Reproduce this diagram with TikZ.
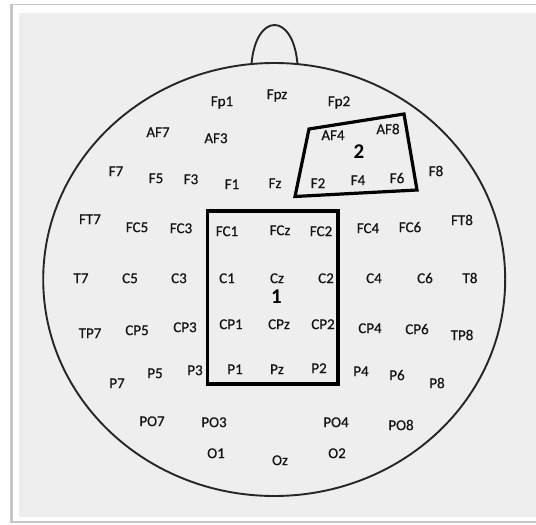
\documentclass[tikz,border=0pt]{standalone}
\usepackage{fontspec}
\setmainfont{Carlito}
\newfontfamily\elfont[FakeBold=0.6]{Carlito}
\definecolor{panel}{HTML}{EEEEEE}
\definecolor{ink}{HTML}{141414}
\definecolor{headline}{HTML}{262626}
\begin{document}
\begin{tikzpicture}[x=1pt,y=-1pt,
  el/.style={inner sep=0pt,text=ink,font=\elfont\fontsize{15}{17}\selectfont,text height=0.62em,text depth=0pt,anchor=center},
  regionlbl/.style={inner sep=0pt,text=black,font=\fontsize{21}{23}\selectfont\bfseries,text height=0.62em,text depth=0pt},
  regionbox/.style={line width=3.2pt,black,line join=miter},
  head/.style={line width=1.9pt,headline}]
\useasboundingbox (0,0) rectangle (536,525);
% frame
\fill[white] (0,0) rectangle (536,525);
\fill[black!22] (10,3.5) rectangle (536,523);
\fill[white] (12.5,5) rectangle (536,520.5);
\fill[panel] (19,12.5) rectangle (536,517);
% head
\draw[head] (274.2,279.5) ellipse [x radius=231, y radius=216.5];
\draw[head] (251.5,64) .. controls (256,12) and (293,12) .. (297.5,64);
\draw[head,line width=1.2pt] (252,63.5) -- (297,63.5);
% electrodes
\node[el] (Fp1) at (222,103) {Fp1};
\node[el] (Fpz) at (277,96) {Fpz};
\node[el] (Fp2) at (339,103) {Fp2};
\node[el] (AF7) at (158,134) {AF7};
\node[el] (AF3) at (216,140) {AF3};
\node[el] (AF4) at (333,137) {AF4};
\node[el] (AF8) at (388,131) {AF8};
\node[el] (F7) at (116,173) {F7};
\node[el] (F5) at (156,180) {F5};
\node[el] (F3) at (191,181) {F3};
\node[el] (F1) at (232,186) {F1};
\node[el] (Fz) at (275,185) {Fz};
\node[el] (F2) at (318,185) {F2};
\node[el] (F4) at (358,182) {F4};
\node[el] (F6) at (397,180) {F6};
\node[el] (F8) at (436,173) {F8};
\node[el] (FT7) at (90,221) {FT7};
\node[el] (FC5) at (137,229) {FC5};
\node[el] (FC3) at (181,230) {FC3};
\node[el] (FC1) at (227,233) {FC1};
\node[el] (FCz) at (280,232) {FCz};
\node[el] (FC2) at (321,233) {FC2};
\node[el] (FC4) at (368,230) {FC4};
\node[el] (FC6) at (410,229) {FC6};
\node[el] (FT8) at (462,222) {FT8};
\node[el] (T7) at (81,280) {T7};
\node[el] (C5) at (130,280) {C5};
\node[el] (C3) at (179,280) {C3};
\node[el] (C1) at (227,280) {C1};
\node[el] (Cz) at (277,280) {Cz};
\node[el] (C2) at (326,280) {C2};
\node[el] (C4) at (374,280) {C4};
\node[el] (C6) at (425,280) {C6};
\node[el] (T8) at (470,280) {T8};
\node[el] (TP7) at (90,335) {TP7};
\node[el] (CP5) at (137,332) {CP5};
\node[el] (CP3) at (185,329) {CP3};
\node[el] (CP1) at (231,326) {CP1};
\node[el] (CPz) at (279,326) {CPz};
\node[el] (CP2) at (323,326) {CP2};
\node[el] (CP4) at (370,330) {CP4};
\node[el] (CP6) at (417,331) {CP6};
\node[el] (TP8) at (462,337) {TP8};
\node[el] (P7) at (117,385) {P7};
\node[el] (P5) at (155,375) {P5};
\node[el] (P3) at (195,372) {P3};
\node[el] (P1) at (235,371) {P1};
\node[el] (Pz) at (277,371) {Pz};
\node[el] (P2) at (319,370) {P2};
\node[el] (P4) at (361,373) {P4};
\node[el] (P6) at (397,377) {P6};
\node[el] (P8) at (437,385) {P8};
\node[el] (PO7) at (152,423) {PO7};
\node[el] (PO3) at (214,424) {PO3};
\node[el] (PO4) at (336,424) {PO4};
\node[el] (PO8) at (401,427) {PO8};
\node[el] (O1) at (216,455) {O1};
\node[el] (Oz) at (280,462) {Oz};
\node[el] (O2) at (337,455) {O2};
% regions
\draw[regionbox] (207.5,211) rectangle (338,384);
\node[regionlbl] (r1) at (276.5,300) {1};
\draw[regionbox] (309,129) -- (404,114) -- (417,190) -- (295,196.5) -- cycle;
\node[regionlbl] (r2) at (359,155) {2};
\end{tikzpicture}
\end{document}
